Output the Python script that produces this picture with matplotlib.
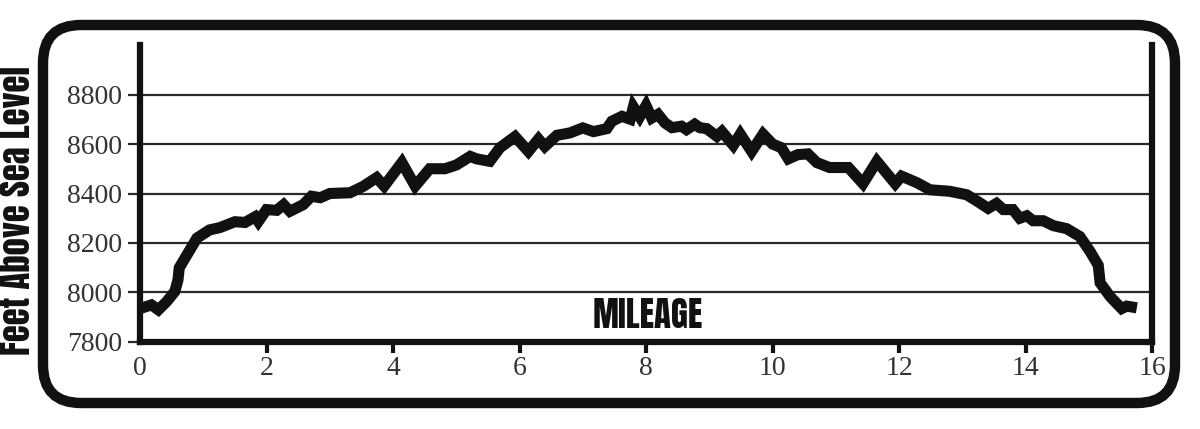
import matplotlib
matplotlib.use('Agg')

import matplotlib.pyplot as plt
from matplotlib.patches import FancyBboxPatch

# elevation profile (miles, feet)
miles = [0.0, 0.18, 0.29, 0.42, 0.55, 0.6, 0.62, 0.76, 0.9, 1.1, 1.26, 1.5,
         1.66, 1.82, 1.87, 2.0, 2.16, 2.27, 2.37, 2.58, 2.71, 2.85, 3.0, 3.32,
         3.53, 3.74, 3.86, 4.14, 4.35, 4.58, 4.82, 5.0, 5.22, 5.32, 5.53, 5.69,
         5.93, 6.14, 6.3, 6.4, 6.59, 6.8, 7.0, 7.17, 7.38, 7.46, 7.62, 7.75,
         7.8, 7.9, 8.0, 8.09, 8.19, 8.3, 8.41, 8.56, 8.64, 8.77, 8.85, 8.96,
         9.12, 9.2, 9.38, 9.49, 9.67, 9.85, 10.0, 10.14, 10.25, 10.4, 10.56,
         10.7, 10.9, 11.2, 11.43, 11.65, 11.94, 12.04, 12.28, 12.49, 12.8,
         13.07, 13.23, 13.41, 13.54, 13.65, 13.8, 13.91, 14.02, 14.12, 14.28,
         14.44, 14.65, 14.86, 15.02, 15.15, 15.18, 15.34, 15.52, 15.6, 15.76]
feet = [7935, 7950, 7930, 7963, 8004, 8051, 8100, 8160, 8220, 8253, 8262, 8286,
        8283, 8306, 8287, 8335, 8332, 8355, 8328, 8355, 8389, 8383, 8400, 8403,
        8429, 8464, 8430, 8525, 8430, 8500, 8500, 8515, 8550, 8540, 8530, 8585,
        8630, 8570, 8620, 8590, 8635, 8645, 8665, 8650, 8662, 8692, 8712, 8700,
        8750, 8710, 8755, 8705, 8720, 8685, 8666, 8672, 8658, 8680, 8666, 8662,
        8631, 8650, 8595, 8640, 8570, 8640, 8600, 8585, 8540, 8557, 8560, 8525,
        8505, 8505, 8440, 8530, 8440, 8470, 8444, 8415, 8409, 8395, 8370, 8340,
        8360, 8335, 8335, 8300, 8310, 8290, 8290, 8270, 8258, 8226, 8166, 8110,
        8039, 7983, 7935, 7945, 7938]

x_ticks = [2, 4, 6, 8, 10, 12, 14, 16]
x_labels = ['0', '2', '4', '6', '8', '10', '12', '14', '16']
y_ticks = [7800, 8000, 8200, 8400, 8600, 8800]

bold_font = ['Anton', 'Liberation Sans', 'DejaVu Sans']

fig = plt.figure(figsize=(12, 4.29), dpi=100)

# rounded frame around the whole chart
bg = fig.add_axes([0, 0, 1, 1])
bg.set_xlim(0, 1200)
bg.set_ylim(429, 0)
bg.axis('off')
bg.add_patch(FancyBboxPatch((43, 25), 1132, 378,
                            boxstyle='round,pad=0,rounding_size=38',
                            fill=False, edgecolor='#111111', linewidth=7.5))

ax = fig.add_axes([0.1167, 0.2028, 0.8433, 0.6923])
ax.plot(miles, feet, color='#111111', linewidth=8,
        solid_joinstyle='miter', solid_capstyle='butt', zorder=3)

ax.set_xlim(0, 16)
ax.set_ylim(7800, 9000)
ax.set_xticks([0] + x_ticks)
ax.set_xticklabels(x_labels)
ax.set_yticks(y_ticks)
ax.grid(axis='y', color='#2a2a2a', linewidth=1.6)
ax.set_axisbelow(True)

ax.spines['top'].set_visible(False)
for side in ['left', 'bottom', 'right']:
    ax.spines[side].set_linewidth(4.5)
    ax.spines[side].set_color('#111111')

ax.tick_params(axis='x', direction='out', length=8, width=3, pad=2,
               color='#111111', labelsize=20, labelcolor='#333333')
ax.tick_params(axis='y', direction='out', length=9, width=1.6, pad=4,
               color='#2a2a2a', labelsize=20, labelcolor='#333333')
ax.xaxis.get_major_ticks()[0].tick1line.set_visible(False)
for lab in ax.get_xticklabels() + ax.get_yticklabels():
    lab.set_family('Liberation Serif')

ax.text(0.502, 0.09, 'MILEAGE', transform=ax.transAxes, ha='center',
        va='center', fontsize=25, family=bold_font, color='#111111')
fig.text(0.0145, 0.51, 'Feet Above Sea Level', rotation=90, ha='center',
         va='center', fontsize=25, family=bold_font, color='#111111')

plt.savefig('out.png', dpi=100)
